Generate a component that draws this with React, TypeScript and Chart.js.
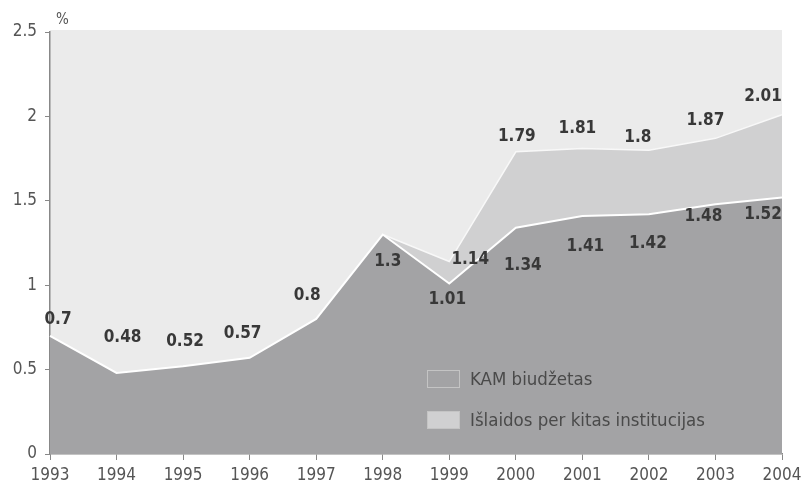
import React, { useEffect, useRef } from "react";
import { Chart, registerables } from "chart.js";

Chart.register(...registerables);

const years = ["1993", "1994", "1995", "1996", "1997", "1998", "1999", "2000", "2001", "2002", "2003", "2004"];
const kamBudget = [0.7, 0.48, 0.52, 0.57, 0.8, 1.3, 1.01, 1.34, 1.41, 1.42, 1.48, 1.52];
const totalWithOther = [null, null, null, null, null, 1.3, 1.14, 1.79, 1.81, 1.8, 1.87, 2.01];
const totalLabelShown = [false, false, false, false, false, false, true, true, true, true, true, true];
const yTicks = [0, 0.5, 1, 1.5, 2, 2.5];
const legendLabels = ["KAM biudžetas", "Išlaidos per kitas institucijas"];

// label placement offsets (px) relative to each point
const kamLabelDx = [8, 6, 2, -7, -9, 5, -2, 7, 3, -1, -12, -19];
const kamLabelDy = [-16, -35, -25, -24, -23, 27, 16, 38, 31, 29, 12, 17];
const totalLabelDx = [0, 0, 0, 0, 0, 0, 21, 1, -5, -11, -10, -19];
const totalLabelDy = [0, 0, 0, 0, 0, 0, -2, -15, -20, -13, -18, -18];

const FONT = "'Liberation Sans Narrow', 'DejaVu Sans Condensed', 'Liberation Sans', sans-serif";
const BG = "#ebebeb";
const DARK = "#a3a3a5";
const LIGHT = "#d0d0d1";

const overlay = {
  id: "overlay",
  beforeDraw(chart: any) {
    const { ctx, chartArea: a } = chart;
    ctx.save();
    ctx.fillStyle = BG;
    ctx.fillRect(a.left, a.top - 2, a.right - a.left, a.bottom - a.top + 2);
    ctx.restore();
  },
  afterDatasetsDraw(chart: any) {
    const { ctx, chartArea: a } = chart;
    const m0 = chart.getDatasetMeta(0);
    const m1 = chart.getDatasetMeta(1);
    ctx.save();
    ctx.font = `bold 17px ${FONT}`;
    ctx.fillStyle = "#383838";
    ctx.textAlign = "center";
    ctx.textBaseline = "middle";
    kamBudget.forEach((v, i) => {
      const p = m0.data[i];
      ctx.fillText(String(v), p.x + kamLabelDx[i], p.y + kamLabelDy[i]);
    });
    totalWithOther.forEach((v, i) => {
      if (v == null || !totalLabelShown[i]) return;
      const p = m1.data[i];
      ctx.fillText(String(v), p.x + totalLabelDx[i], p.y + totalLabelDy[i]);
    });
    // legend
    const colors = [DARK, LIGHT];
    ctx.font = `18.5px ${FONT}`;
    ctx.textAlign = "left";
    legendLabels.forEach((t, i) => {
      const y = a.bottom - 75 + i * 41;
      ctx.fillStyle = colors[i];
      ctx.fillRect(427, y - 9, 33, 18);
      ctx.strokeStyle = "#c4c4c4";
      ctx.lineWidth = 1;
      ctx.strokeRect(427.5, y - 8.5, 32, 17);
      ctx.fillStyle = "#4a4a4a";
      ctx.fillText(t, 470, y + 1);
    });
    // percent sign
    ctx.font = `15px ${FONT}`;
    ctx.fillStyle = "#555";
    ctx.fillText("%", 56, 20);
    ctx.restore();
  },
};

export default function App() {
  const ref = useRef<HTMLCanvasElement>(null);
  useEffect(() => {
    document.body.style.margin = "0";
    const chart = new Chart(ref.current!, {
      type: "line",
      data: {
        labels: years,
        datasets: [
          {
            label: legendLabels[0],
            data: kamBudget,
            backgroundColor: DARK,
            borderColor: "#ffffff",
            borderWidth: 2,
            pointRadius: 0,
            fill: "origin",
            tension: 0,
          },
          {
            label: legendLabels[1],
            data: totalWithOther as any,
            backgroundColor: LIGHT,
            borderColor: "#f8f8f8",
            borderWidth: 1.5,
            pointRadius: 0,
            fill: "-1",
            tension: 0,
          },
        ],
      },
      options: {
        animation: false,
        responsive: false,
        layout: { padding: { top: 32, right: 21, left: 0, bottom: 0 } },
        plugins: { legend: { display: false }, tooltip: { enabled: false } },
        scales: {
          x: {
            offset: false,
            afterFit: (s: any) => { s.height = 40; s.paddingLeft = 0; s.paddingRight = 0; },
            grid: { drawOnChartArea: false, tickLength: 6, color: "#888" },
            border: { color: "#888", width: 1.5 },
            ticks: { color: "#555", font: { family: FONT, size: 17 }, padding: 5, maxRotation: 0, autoSkip: false },
          },
          y: {
            min: 0,
            max: 2.5,
            afterFit: (s: any) => { s.width = 50; s.paddingTop = 0; s.paddingBottom = 0; },
            afterBuildTicks: (s: any) => { s.ticks = yTicks.map((v) => ({ value: v })); },
            grid: { drawOnChartArea: false, tickLength: 5, color: "#888" },
            border: { color: "#888", width: 1.5 },
            ticks: { color: "#555", font: { family: FONT, size: 17 }, padding: 8, callback: (v: any) => String(v) },
          },
        },
      },
      plugins: [overlay],
    });
    return () => chart.destroy();
  }, []);
  return <canvas ref={ref} width={803} height={494} style={{ display: "block" }} />;
}
